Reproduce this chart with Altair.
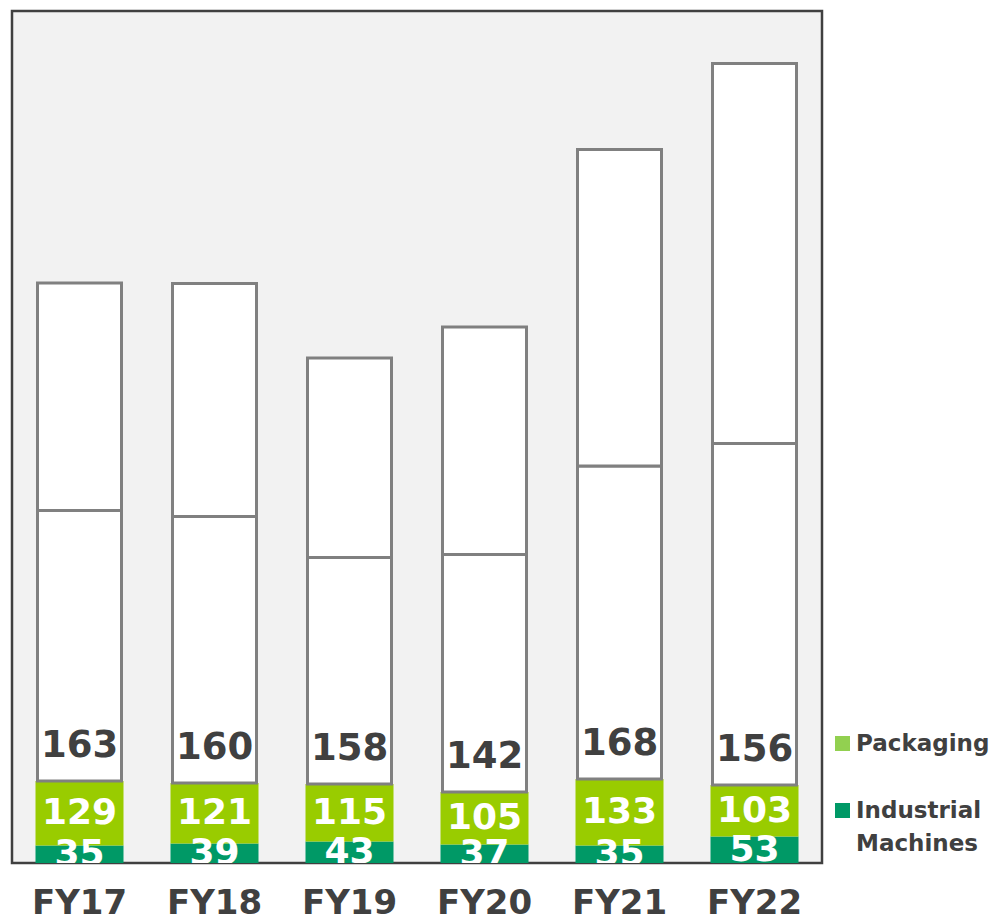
import altair as alt
import pandas as pd

years = ["FY17", "FY18", "FY19", "FY20", "FY21", "FY22"]
industrial = [35, 39, 43, 37, 35, 53]
packaging = [129, 121, 115, 105, 133, 103]
subtotal_labels = [163, 160, 158, 142, 168, 156]
other_lower = [541, 533, 453, 475, 626, 683]
other_upper = [455, 466, 399, 455, 633, 760]

colored_rows, white_rows, total_rows = [], [], []
for i, yr in enumerate(years):
    b1 = industrial[i]
    b2 = b1 + packaging[i]
    b3 = b2 + other_lower[i]
    b4 = b3 + other_upper[i]
    colored_rows.append(dict(year=yr, series="Industrial Machines", y0=0, y1=b1,
                             mid=b1 / 2, value=industrial[i]))
    colored_rows.append(dict(year=yr, series="Packaging", y0=b1, y1=b2,
                             mid=(b1 + b2) / 2, value=packaging[i]))
    white_rows.append(dict(year=yr, y0=b2, y1=b3))
    white_rows.append(dict(year=yr, y0=b3, y1=b4))
    total_rows.append(dict(year=yr, top=b2, label=subtotal_labels[i]))

colored = pd.DataFrame(colored_rows)
white = pd.DataFrame(white_rows)
totals = pd.DataFrame(total_rows)

FONT = "DejaVu Sans"
yscale = alt.Scale(domain=[0, 1704], nice=False, zero=True)
xenc = alt.X("year:N", sort=years, title=None,
             scale=alt.Scale(paddingInner=0, paddingOuter=0),
             axis=alt.Axis(labelAngle=0, labelFont=FONT, labelFontSize=34,
                           labelFontWeight="bold", labelColor="#404040",
                           ticks=False, tickSize=0, domain=False, grid=False,
                           labelPadding=23))

legend = alt.Legend(
    title=None, orient="none", legendX=819, legendY=721,
    symbolType="square", symbolSize=225, symbolStrokeWidth=0, symbolOpacity=1,
    labelFont=FONT, labelFontSize=23, labelFontWeight="bold",
    labelColor="#404040", labelOffset=2, labelLimit=400, padding=0,
    rowPadding=43,
    labelExpr="datum.label == 'Industrial Machines' ? ['Industrial', 'Machines'] : datum.label",
)

bars = alt.Chart(colored).mark_bar(width=88).encode(
    x=xenc,
    y=alt.Y("y0:Q", scale=yscale, axis=None),
    y2="y1:Q",
    color=alt.Color("series:N",
                    scale=alt.Scale(domain=["Packaging", "Industrial Machines"],
                                    range=["#99CC00", "#009966"]),
                    legend=None),
)

legend_layer = alt.Chart(colored).mark_square(size=0, opacity=0).encode(
    x=xenc,
    y=alt.Y("mid:Q", scale=yscale, axis=None),
    color=alt.Color("series:N",
                    scale=alt.Scale(domain=["Packaging", "Industrial Machines"],
                                    range=["#92D050", "#009966"]),
                    legend=legend),
)

white_bars = alt.Chart(white).mark_bar(width=84, fill="white", stroke="#808080",
                                       strokeWidth=3).encode(
    x=xenc,
    y=alt.Y("y0:Q", scale=yscale, axis=None),
    y2="y1:Q",
)

seg_labels = alt.Chart(colored).mark_text(
    font=FONT, fontSize=36, fontWeight="bold", color="white",
    baseline="middle", clip=True
).encode(
    x=xenc,
    y=alt.Y("mid:Q", scale=yscale, axis=None),
    text="value:Q",
)

total_labels = alt.Chart(totals).mark_text(
    font=FONT, fontSize=37, fontWeight="bold", color="#404040",
    baseline="middle", dy=-35
).encode(
    x=xenc,
    y=alt.Y("top:Q", scale=yscale, axis=None),
    text="label:Q",
)

chart = alt.layer(bars, white_bars, seg_labels, total_labels, legend_layer).resolve_scale(
    color="independent"
).properties(
    width=810, height=852,
    autosize=alt.AutoSizeParams(type="none"),
    padding={"left": 4, "top": 3, "right": 172, "bottom": 52},
).configure(
    style={"guide-label": {"lineHeight": 33}}
).configure_view(
    fill="#F2F2F2", stroke="#404040", strokeWidth=2.5
)

chart.save("out.html", embed_options={"renderer": "svg", "actions": False})
